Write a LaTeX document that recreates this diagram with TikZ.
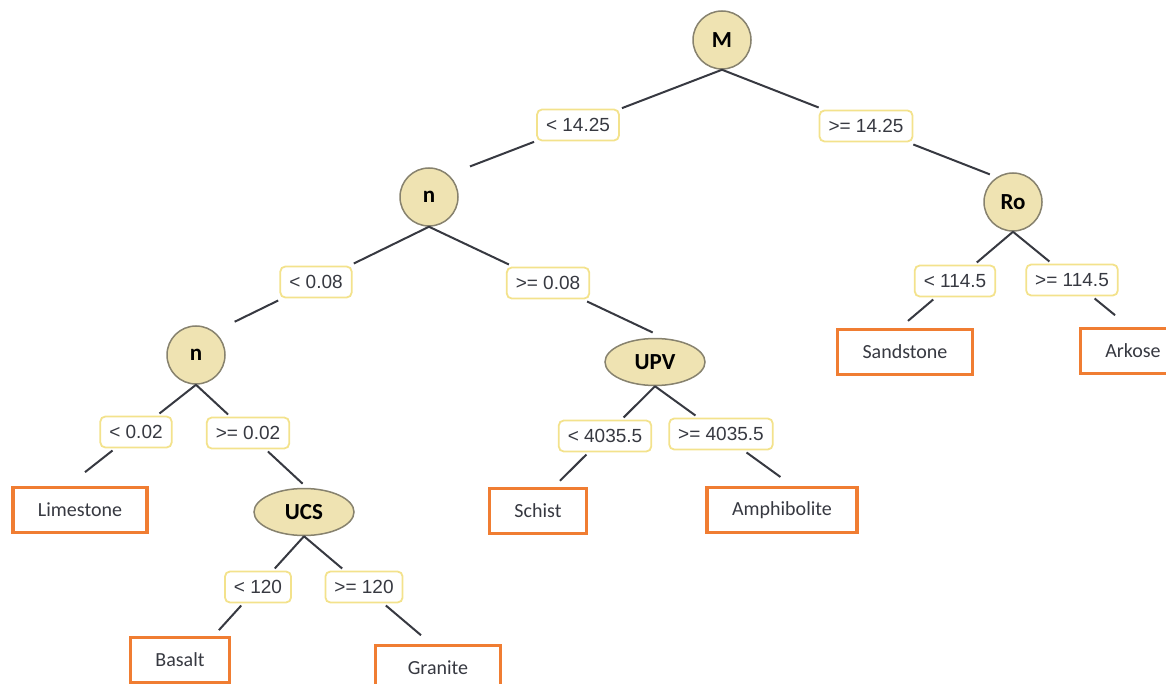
\documentclass[tikz,border=0pt]{standalone}
\usepackage{fontspec}
\setmainfont{Carlito}
\newfontfamily\numfont{Liberation Sans}
\usetikzlibrary{shapes.geometric,calc}
\definecolor{nodefill}{RGB}{239,227,178}
\definecolor{nodeline}{RGB}{135,130,110}
\definecolor{condline}{RGB}{243,226,140}
\definecolor{leafline}{RGB}{240,125,50}
\definecolor{inkgray}{RGB}{55,57,65}
\begin{document}
\begin{tikzpicture}[x=1pt, y=-1pt,
    attribute/.style ={circle, draw=nodeline, line width=1.5pt, fill=nodefill, minimum size=58pt, inner sep=0pt, font=\fontsize{23}{23}\selectfont\bfseries},
    attributewide/.style ={ellipse, draw=nodeline, line width=1.5pt, fill=nodefill, minimum width=100pt, minimum height=47pt, inner sep=0pt, font=\fontsize{23}{23}\selectfont\bfseries},
    condition/.style ={rectangle, rounded corners=5pt, draw=condline, line width=1.8pt, fill=white, inner xsep=9pt, minimum height=31pt, outer sep=3pt, text=inkgray, font=\numfont\fontsize{19}{19}\selectfont},
    rocktype/.style ={rectangle, draw=leafline, line width=3.2pt, fill=white, inner xsep=25pt, minimum height=45pt, text=inkgray, font=\fontsize{20}{20}\selectfont},
    branch/.style ={line width=2pt, draw=inkgray}]
   \clip (0,0) rectangle (1166,684);
   \node[attribute] (M) at (722,40) {M};
   \node[attribute] (n1) at (429,197) {n};
   \node[attribute] (Ro) at (1013,202) {Ro};
   \node[attribute] (n2) at (196,355) {n};
   \node[attributewide] (UPV) at (655,362) {UPV};
   \node[attributewide] (UCS) at (304,512) {UCS};
   \node[condition] (Ml) at (578,125) {< 14.25};
   \node[condition] (Mr) at (866,126) {>= 14.25};
   \node[condition] (n1l) at (316,282) {< 0.08};
   \node[condition] (n1r) at (548,283) {>= 0.08};
   \node[condition] (Rol) at (955,281) {< 114.5};
   \node[condition] (Ror) at (1072,280) {>= 114.5};
   \node[condition] (n2l) at (136,432) {< 0.02};
   \node[condition] (n2r) at (248,433) {>= 0.02};
   \node[condition] (UPVl) at (605,436) {< 4035.5};
   \node[condition] (UPVr) at (721,434) {>= 4035.5};
   \node[condition] (UCSl) at (258,587) {< 120};
   \node[condition] (UCSr) at (364,587) {>= 120};
   \node[rocktype] (Limestone) at (80,510) {Limestone};
   \node[rocktype] (Basalt) at (180,660) {Basalt};
   \node[rocktype, minimum width=125pt] (Granite) at (438,668) {Granite};
   \node[rocktype] (Schist) at (538,511) {Schist};
   \node[rocktype] (Amphibolite) at (782,510) {Amphibolite};
   \node[rocktype] (Sandstone) at (905,352) {Sandstone};
   \node[rocktype] (Arkose) at (1133,351) {Arkose};
   \draw[branch] (M.south) -- (Ml) -- ($(M.south)!1.75!(Ml)$);
   \draw[branch] (M.south) -- (Mr) -- ($(M.south)!1.86!(Mr)$);
   \draw[branch] (n1.south) -- (n1l) -- ($(n1.south)!1.72!(n1l)$);
   \draw[branch] (n1.south) -- (n1r) -- ($(n1.south)!1.88!(n1r)$);
   \draw[branch] (Ro.south) -- (Rol) -- ($(Ro.south)!1.81!(Rol)$);
   \draw[branch] (Ro.south) -- (Ror) -- ($(Ro.south)!1.73!(Ror)$);
   \draw[branch] (n2.south) -- (n2l) -- ($(n2.south)!1.85!(n2l)$);
   \draw[branch] (n2.south) -- (n2r) -- ($(n2.south)!2.05!(n2r)$);
   \draw[branch] (UPV.south) -- (UPVl) -- ($(UPV.south)!1.9!(UPVl)$);
   \draw[branch] (UPV.south) -- (UPVr) -- ($(UPV.south)!1.9!(UPVr)$);
   \draw[branch] (UCS.south) -- (UCSl) -- ($(UCS.south)!1.85!(UCSl)$);
   \draw[branch] (UCS.south) -- (UCSr) -- ($(UCS.south)!1.95!(UCSr)$);
 \end{tikzpicture}
\end{document}
